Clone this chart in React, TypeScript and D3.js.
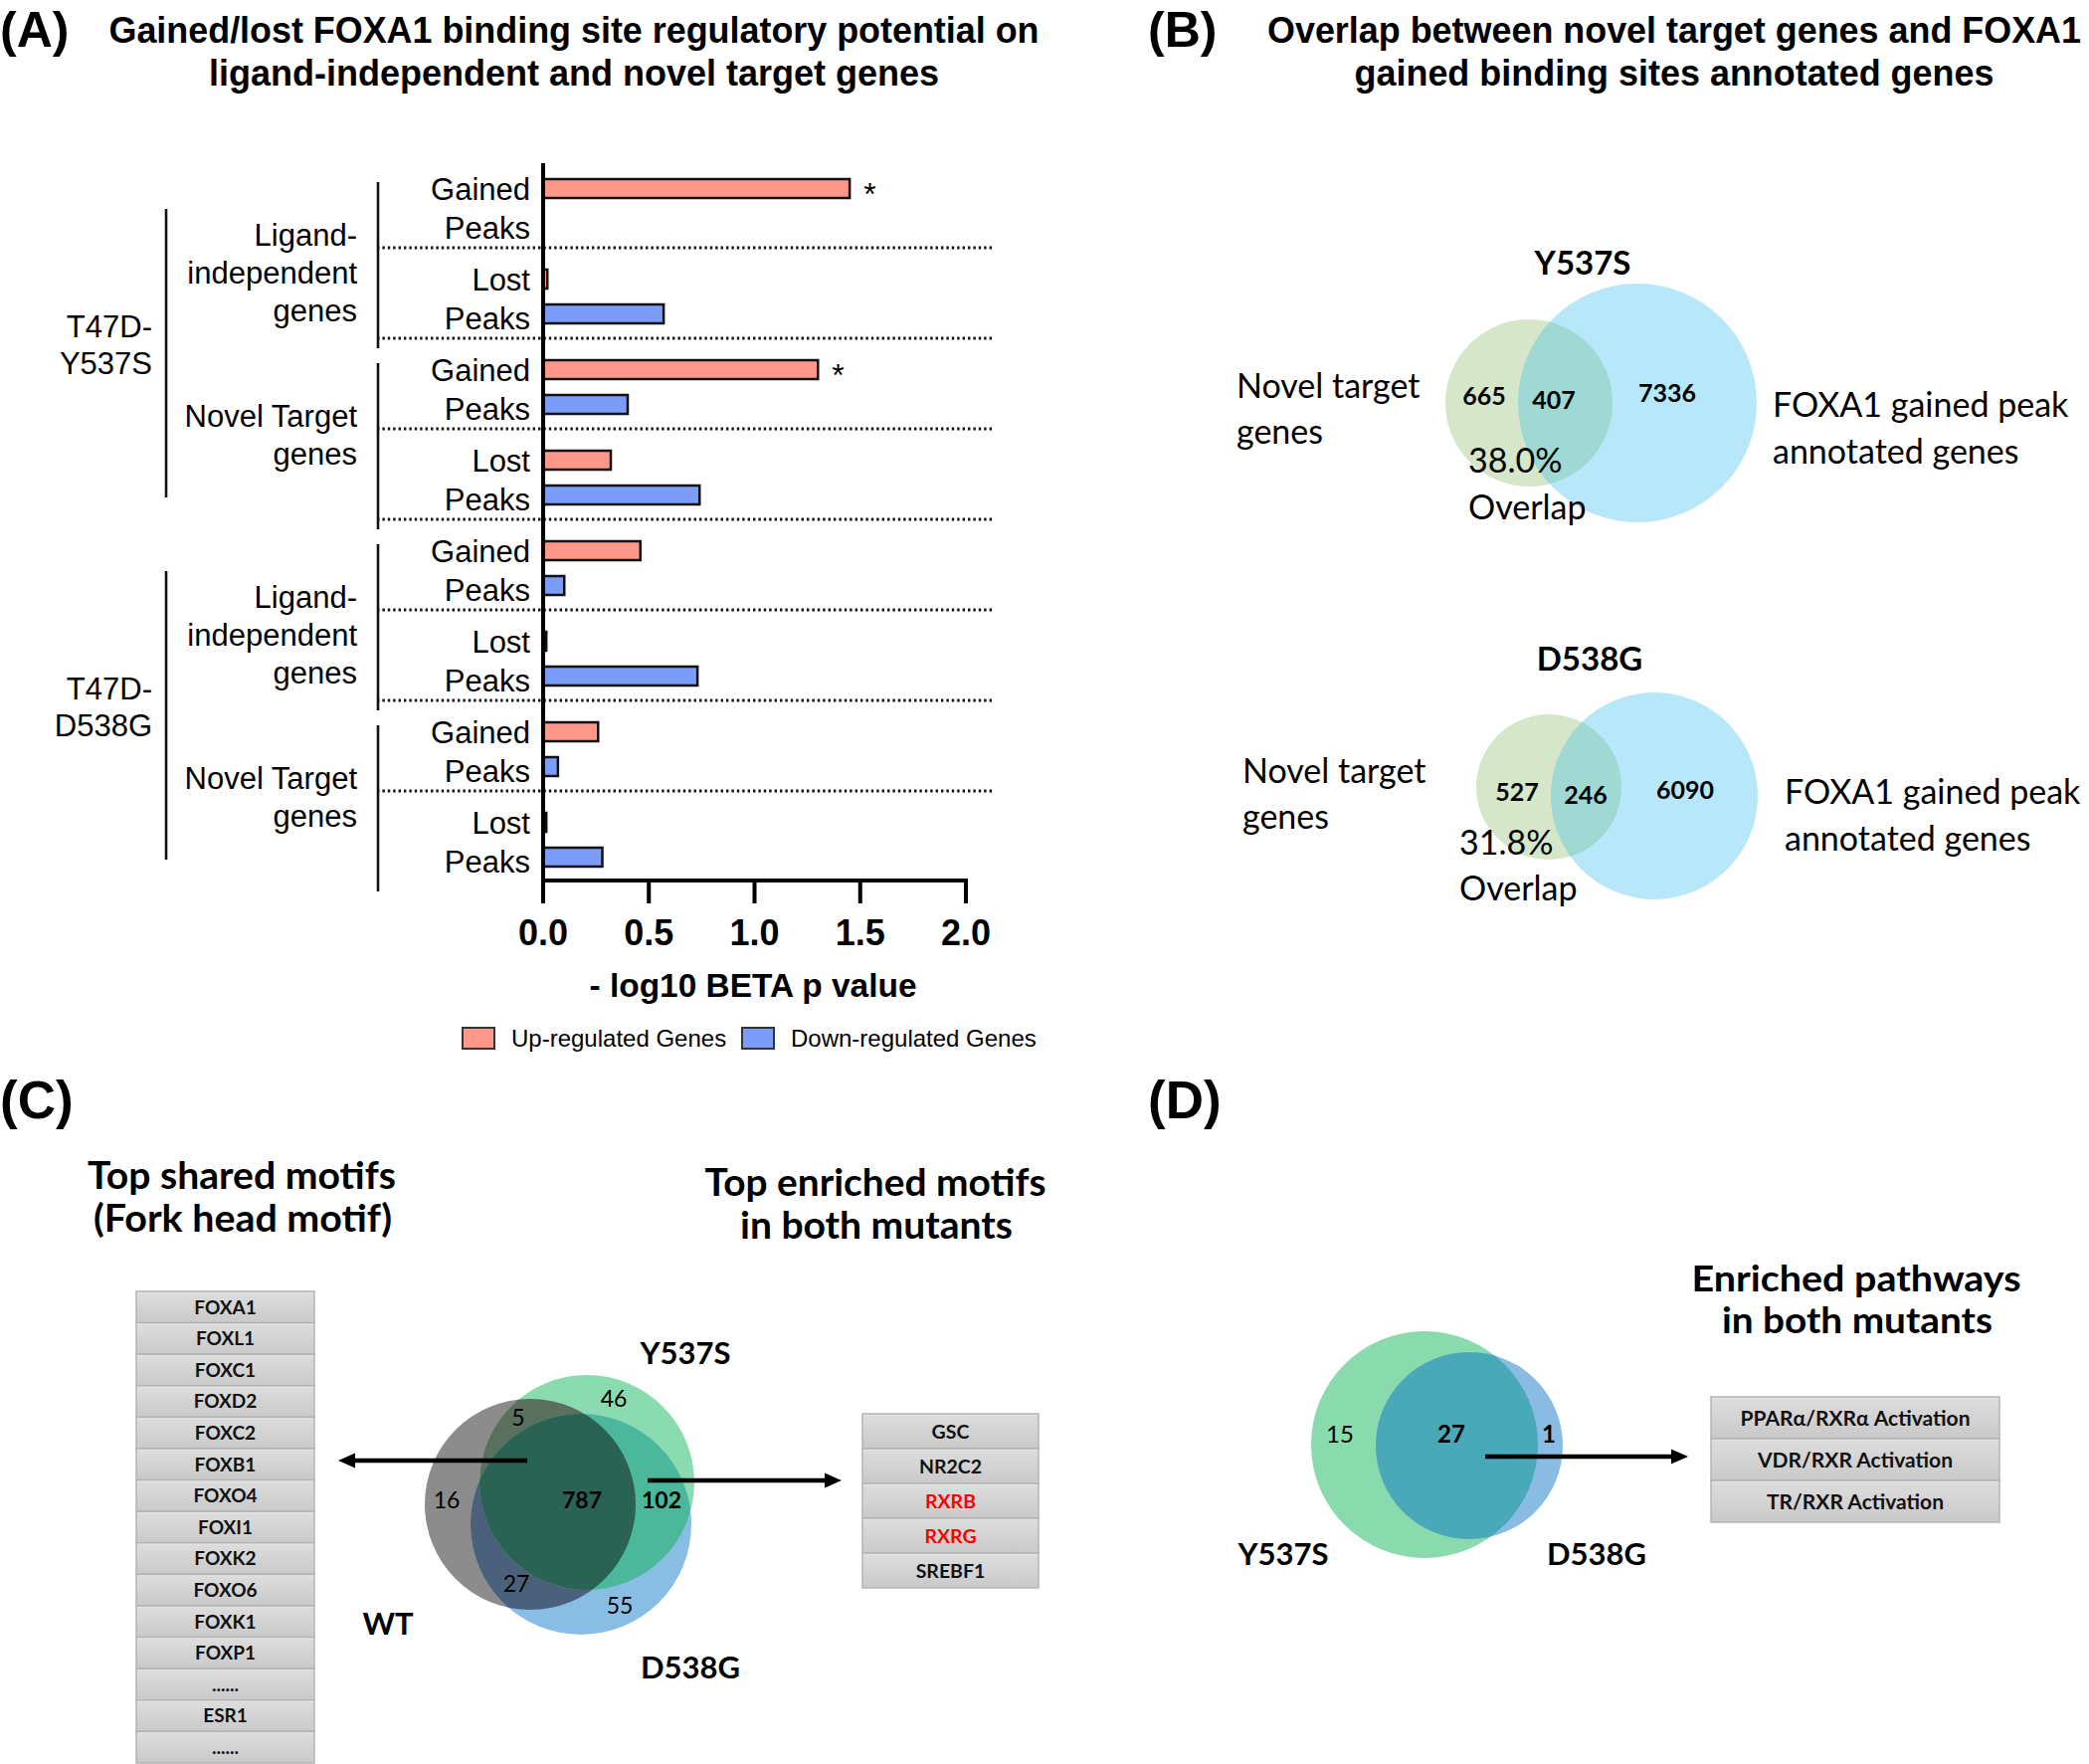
import React from 'react';
import * as d3 from 'd3';

// ---------------- Panel A data ----------------
const peakRows = ['Gained Peaks', 'Lost Peaks', 'Gained Peaks', 'Lost Peaks', 'Gained Peaks', 'Lost Peaks', 'Gained Peaks', 'Lost Peaks'];
const geneSetLabels = [['Ligand-', 'independent', 'genes'], ['Novel Target', 'genes'], ['Ligand-', 'independent', 'genes'], ['Novel Target', 'genes']];
const cellLineLabels = [['T47D-', 'Y537S'], ['T47D-', 'D538G']];
const upRegulated = [1.45, 0.02, 1.3, 0.32, 0.46, 0.015, 0.26, 0.015];
const downRegulated = [0, 0.57, 0.4, 0.74, 0.1, 0.73, 0.07, 0.28];
const significance = ['*', '', '*', '', '', '', '', ''];
const xTicks = [0, 0.5, 1.0, 1.5, 2.0];
const seriesNames = ['Up-regulated Genes', 'Down-regulated Genes'];
const seriesColors = ['#ff978b', '#7b9cf8'];

// ---------------- Panel B data ----------------
const bTitles = ['Y537S', 'D538G'];
const bNovelOnly = [665, 527];
const bShared = [407, 246];
const bFoxa1Only = [7336, 6090];
const bOverlapPct = ['38.0%', '31.8%'];

// ---------------- Panel C data ----------------
const cSetNames = ['WT', 'Y537S', 'D538G'];
// regions: WT only, Y537S only, D538G only, WT∩Y537S, WT∩D538G, Y537S∩D538G, all
const cRegionCounts = [16, 46, 55, 5, 27, 102, 787];
const sharedMotifs = ['FOXA1', 'FOXL1', 'FOXC1', 'FOXD2', 'FOXC2', 'FOXB1', 'FOXO4', 'FOXI1', 'FOXK2', 'FOXO6', 'FOXK1', 'FOXP1', '......', 'ESR1', '......'];
const enrichedMotifs = ['GSC', 'NR2C2', 'RXRB', 'RXRG', 'SREBF1'];
const highlightedMotifs = ['RXRB', 'RXRG'];

// ---------------- Panel D data ----------------
const dSetNames = ['Y537S', 'D538G'];
const dCounts = [15, 27, 1];
const pathways = ['PPARα/RXRα Activation', 'VDR/RXR Activation', 'TR/RXR Activation'];

const F_ARIAL = '"Liberation Sans", Arial, Helvetica, sans-serif';
const F_CAL = 'Lato, "Open Sans", "Noto Sans", sans-serif';

type TP = {
  x: number; y: number; size: number; children: React.ReactNode; weight?: number | string;
  anchor?: 'start' | 'middle' | 'end'; family?: string; fill?: string; len?: number;
};
function Txt({ x, y, size, children, weight = 400, anchor = 'start', family = F_CAL, fill = '#000', len }: TP) {
  return (
    <text
      x={x}
      y={y + size * 0.36}
      fontSize={size}
      fontWeight={weight}
      textAnchor={anchor}
      fontFamily={family}
      fill={fill}
      textLength={len}
      lengthAdjust={len ? 'spacingAndGlyphs' : undefined}
    >
      {children}
    </text>
  );
}

function Arrow({ x1, x2, y }: { x1: number; x2: number; y: number }) {
  const dir = x2 > x1 ? 1 : -1;
  const head = 17;
  return (
    <g>
      <line x1={x1} y1={y} x2={x2 - dir * head} y2={y} stroke="#000" strokeWidth={4.5} />
      <path d={`M${x2},${y} L${x2 - dir * head},${y - 7.5} L${x2 - dir * head},${y + 7.5} Z`} fill="#000" />
    </g>
  );
}

function PanelA() {
  const x = d3.scaleLinear().domain([0, 2]).range([546, 971]);
  const y = d3.scaleBand<number>().domain(d3.range(peakRows.length)).range([158, 886]);
  const yi = d3.scaleBand<string>().domain(['up', 'down']).range([14, 84]);
  const barH = 19;
  const center = (i: number, k: string) => (y(i) as number) + (yi(k) as number) + yi.bandwidth() / 2;
  const fmt = d3.format('.1f');
  const series = [upRegulated, downRegulated];
  const keys = ['up', 'down'];

  return (
    <g>
      <text x={0} y={47} fontSize={50} fontWeight={700} fontFamily={F_ARIAL}>(A)</text>
      <text x={577} y={43} fontSize={36} fontWeight={700} fontFamily={F_ARIAL} textAnchor="middle" textLength={935} lengthAdjust="spacingAndGlyphs">
        Gained/lost FOXA1 binding site regulatory potential on
      </text>
      <text x={577} y={86} fontSize={36} fontWeight={700} fontFamily={F_ARIAL} textAnchor="middle" textLength={734} lengthAdjust="spacingAndGlyphs">
        ligand-independent and novel target genes
      </text>

      {/* separators */}
      {d3.range(1, peakRows.length).map((i) => (
        <line key={'sep' + i} x1={379} x2={999} y1={y(i)} y2={y(i)} stroke="#111" strokeWidth={3} strokeDasharray="2.4 3" />
      ))}

      {/* bars */}
      {series.map((vals, s) =>
        vals.map((v, i) =>
          v > 0 ? (
            <rect
              key={`b${s}-${i}`}
              x={x(0)}
              y={center(i, keys[s]) - barH / 2}
              width={x(v) - x(0)}
              height={barH}
              fill={seriesColors[s]}
              stroke="#111"
              strokeWidth={2.5}
            />
          ) : null
        )
      )}
      {significance.map((s, i) =>
        s ? (
          <text key={'sig' + i} x={x(upRegulated[i]) + 14} y={center(i, 'up') + 16} fontSize={32} fontFamily={F_ARIAL}>
            {s}
          </text>
        ) : null
      )}

      {/* axes */}
      <line x1={546} x2={546} y1={164} y2={887} stroke="#000" strokeWidth={4} />
      <line x1={544} x2={x(2) + 2} y1={885} y2={885} stroke="#000" strokeWidth={4} />
      {xTicks.map((t) => (
        <g key={'t' + t}>
          <line x1={x(t)} x2={x(t)} y1={885} y2={908} stroke="#000" strokeWidth={4} />
          <Txt x={x(t)} y={937} size={36} weight={700} anchor="middle" family={F_ARIAL}>{fmt(t)}</Txt>
        </g>
      ))}
      <Txt x={757} y={990} size={33} weight={700} anchor="middle" family={F_ARIAL} len={329}>- log10 BETA p value</Txt>

      {/* row labels */}
      {peakRows.map((r, i) => {
        const [a, b] = r.split(' ');
        return (
          <g key={'rl' + i}>
            <Txt x={533} y={center(i, 'up')} size={31} anchor="end" family={F_ARIAL}>{a}</Txt>
            <Txt x={533} y={center(i, 'down') + 4} size={31} anchor="end" family={F_ARIAL}>{b}</Txt>
          </g>
        );
      })}

      {/* gene set brackets */}
      {geneSetLabels.map((lines, g) => {
        const top = (y(g * 2) as number) + 25;
        const bot = (y(g * 2 + 1) as number) + y.bandwidth() + 10;
        return (
          <g key={'gs' + g}>
            <line x1={380} x2={380} y1={top} y2={bot} stroke="#111" strokeWidth={2.6} />
            {lines.map((l, k) => (
              <Txt key={k} x={359} y={top + 53 + k * 38} size={31} anchor="end" family={F_ARIAL}>{l}</Txt>
            ))}
          </g>
        );
      })}

      {/* cell line brackets */}
      {cellLineLabels.map((lines, c) => {
        const top = (y(c * 4) as number) + 52;
        const bot = (y(c * 4 + 3) as number) + y.bandwidth() - 22;
        return (
          <g key={'cl' + c}>
            <line x1={167} x2={167} y1={top} y2={bot} stroke="#111" strokeWidth={2.6} />
            {lines.map((l, k) => (
              <Txt key={k} x={153} y={top + 118 + k * 37} size={31} anchor="end" family={F_ARIAL}>{l}</Txt>
            ))}
          </g>
        );
      })}

      {/* legend */}
      {seriesNames.map((n, s) => {
        const lx = [465, 746][s];
        return (
          <g key={'lg' + s}>
            <rect x={lx} y={1033} width={32} height={21} fill={seriesColors[s]} stroke="#333" strokeWidth={2} />
            <Txt x={lx + 49} y={1043} size={24} family={F_ARIAL}>{n}</Txt>
          </g>
        );
      })}
    </g>
  );
}

function TwoVenn({ id, a, b, colA, colB, colAB }: {
  id: string; a: [number, number, number]; b: [number, number, number]; colA: string; colB: string; colAB: string;
}) {
  return (
    <g>
      <defs>
        <clipPath id={id + 'A'}>
          <circle cx={a[0]} cy={a[1]} r={a[2]} />
        </clipPath>
      </defs>
      <circle cx={a[0]} cy={a[1]} r={a[2]} fill={colA} />
      <circle cx={b[0]} cy={b[1]} r={b[2]} fill={colB} />
      <g clipPath={`url(#${id}A)`}>
        <circle cx={b[0]} cy={b[1]} r={b[2]} fill={colAB} />
      </g>
    </g>
  );
}

function PanelB() {
  const layouts = [
    { title: [1591, 264], green: [1537, 405, 84], blue: [1646, 405, 120], nums: [[1492, 398], [1562, 402], [1676, 395]], pct: [1476, 463], ov: [1476, 510], novel: [1243, 388], foxa: [1782, 407] },
    { title: [1598, 662], green: [1557, 791, 73], blue: [1663, 800, 104], nums: [[1525, 796], [1594, 799], [1694, 794]], pct: [1467, 847], ov: [1467, 893], novel: [1249, 775], foxa: [1794, 796] },
  ];
  return (
    <g>
      <text x={1154} y={47} fontSize={50} fontWeight={700} fontFamily={F_ARIAL}>(B)</text>
      <text x={1683} y={43} fontSize={36} fontWeight={700} fontFamily={F_ARIAL} textAnchor="middle" textLength={818} lengthAdjust="spacingAndGlyphs">
        Overlap between novel target genes and FOXA1
      </text>
      <text x={1683} y={86} fontSize={36} fontWeight={700} fontFamily={F_ARIAL} textAnchor="middle" textLength={643} lengthAdjust="spacingAndGlyphs">
        gained binding sites annotated genes
      </text>
      {layouts.map((L, i) => (
        <g key={'vb' + i}>
          <TwoVenn id={'vb' + i} a={L.green as any} b={L.blue as any} colA="#d6e7c9" colB="#b7e7f8" colAB="#a0d8d3" />
          <Txt x={L.title[0]} y={L.title[1]} size={33} weight={700} anchor="middle">{bTitles[i]}</Txt>
          {[bNovelOnly[i], bShared[i], bFoxa1Only[i]].map((v, k) => (
            <Txt key={k} x={L.nums[k][0]} y={L.nums[k][1]} size={25} weight={700} anchor="middle">{v}</Txt>
          ))}
          <Txt x={L.pct[0]} y={L.pct[1]} size={34}>{bOverlapPct[i]}</Txt>
          <Txt x={L.ov[0]} y={L.ov[1]} size={34}>Overlap</Txt>
          <Txt x={L.novel[0]} y={L.novel[1]} size={34}>Novel target</Txt>
          <Txt x={L.novel[0]} y={L.novel[1] + 46} size={34}>genes</Txt>
          <Txt x={L.foxa[0]} y={L.foxa[1]} size={34}>FOXA1 gained peak</Txt>
          <Txt x={L.foxa[0]} y={L.foxa[1] + 47} size={34}>annotated genes</Txt>
        </g>
      ))}
    </g>
  );
}

function Table({ items, x, top, w, h, cx, size, colorOf }: {
  items: string[]; x: number; top: number; w: number; h: number; cx: number; size: number; colorOf?: (s: string) => string;
}) {
  const yb = d3.scaleBand<number>().domain(d3.range(items.length)).range([top, top + h * items.length]);
  return (
    <g>
      {items.map((s, i) => (
        <g key={i}>
          <rect x={x} y={yb(i)} width={w} height={yb.bandwidth()} fill="url(#cellGrad)" stroke="#b4b4b4" strokeWidth={1.5} />
          <line x1={x + 1} x2={x + w - 1} y1={(yb(i) as number) + 1.5} y2={(yb(i) as number) + 1.5} stroke="#e4e4e4" strokeWidth={1} />
          <Txt x={cx} y={(yb(i) as number) + yb.bandwidth() / 2} size={size} weight={700} anchor="middle" fill={colorOf ? colorOf(s) : '#111'}>
            {s}
          </Txt>
        </g>
      ))}
    </g>
  );
}

function PanelC() {
  const wt = [533, 1512, 106];
  const y5 = [590, 1490, 108];
  const d5 = [584, 1532, 111];
  const c = (p: number[], fill: string) => <circle cx={p[0]} cy={p[1]} r={p[2]} fill={fill} />;
  // region label positions in order of cRegionCounts
  const regionPos = [[449, 1508], [617, 1406], [623, 1614], [521, 1425], [519, 1592], [665, 1508], [585, 1508]];
  const regionBold = [false, false, false, false, false, true, true];
  return (
    <g>
      <text x={0} y={1124} fontSize={53} fontWeight={700} fontFamily={F_ARIAL}>(C)</text>
      <Txt x={243} y={1181} size={38} weight={700} anchor="middle" len={310}>Top shared motifs</Txt>
      <Txt x={244} y={1224} size={38} weight={700} anchor="middle" len={300}>(Fork head motif)</Txt>
      <Txt x={880} y={1188} size={38} weight={700} anchor="middle" len={343}>Top enriched motifs</Txt>
      <Txt x={881} y={1231} size={38} weight={700} anchor="middle" len={274}>in both mutants</Txt>

      <Table items={sharedMotifs} x={137} top={1298} w={179} h={31.6} cx={226.5} size={19} />
      <Table items={enrichedMotifs} x={867} top={1421} w={177} h={35} cx={955.5} size={19.5}
        colorOf={(s) => (highlightedMotifs.includes(s) ? '#ff0000' : '#111')} />

      <defs>
        <clipPath id="cWT"><circle cx={wt[0]} cy={wt[1]} r={wt[2]} /></clipPath>
        <clipPath id="cY"><circle cx={y5[0]} cy={y5[1]} r={y5[2]} /></clipPath>
      </defs>
      {c(wt, '#8c8c8c')}
      {c(y5, '#8adcb0')}
      {c(d5, '#89bde3')}
      <g clipPath="url(#cWT)">
        {c(y5, '#5b6f5f')}
        {c(d5, '#4b607a')}
      </g>
      <g clipPath="url(#cY)">
        {c(d5, '#4bb89c')}
        <g clipPath="url(#cWT)">{c(d5, '#2a6353')}</g>
      </g>
      {cRegionCounts.map((v, i) => (
        <Txt key={i} x={regionPos[i][0]} y={regionPos[i][1]} size={23} weight={regionBold[i] ? 700 : 400} anchor="middle">{v}</Txt>
      ))}
      <Txt x={390} y={1632} size={31} weight={700} anchor="middle">{cSetNames[0]}</Txt>
      <Txt x={689} y={1360} size={31} weight={700} anchor="middle">{cSetNames[1]}</Txt>
      <Txt x={694} y={1676} size={31} weight={700} anchor="middle">{cSetNames[2]}</Txt>
      <Arrow x1={530} x2={340} y={1468} />
      <Arrow x1={651} x2={846} y={1488} />
    </g>
  );
}

function PanelD() {
  const g = [1432, 1452, 114];
  const b = [1477, 1453, 94];
  return (
    <g>
      <text x={1154} y={1124} fontSize={53} fontWeight={700} fontFamily={F_ARIAL}>(D)</text>
      <Txt x={1866} y={1285} size={37} weight={700} anchor="middle" len={331}>Enriched pathways</Txt>
      <Txt x={1867} y={1327} size={37} weight={700} anchor="middle" len={272}>in both mutants</Txt>
      <TwoVenn id="vd" a={g as any} b={b as any} colA="#89dbae" colB="#8abbe3" colAB="#4aa9b8" />
      <Txt x={1347} y={1441} size={24} anchor="middle">{dCounts[0]}</Txt>
      <Txt x={1459} y={1441} size={24} weight={700} anchor="middle">{dCounts[1]}</Txt>
      <Txt x={1557} y={1441} size={24} weight={700} anchor="middle">{dCounts[2]}</Txt>
      <Txt x={1290} y={1562} size={31} weight={700} anchor="middle">{dSetNames[0]}</Txt>
      <Txt x={1605} y={1562} size={31} weight={700} anchor="middle">{dSetNames[1]}</Txt>
      <Arrow x1={1493} x2={1697} y={1464} />
      <Table items={pathways} x={1720} top={1404} w={290} h={42} cx={1865} size={21} />
    </g>
  );
}

export default function App() {
  return (
    <svg
      width={2100}
      height={1773}
      viewBox="0 0 2100 1773"
      style={{ position: 'absolute', left: 0, top: 0, background: '#fff' }}
      xmlns="http://www.w3.org/2000/svg"
    >
      <defs>
        <linearGradient id="cellGrad" x1="0" y1="0" x2="0" y2="1">
          <stop offset="0" stopColor="#dedede" />
          <stop offset="1" stopColor="#c9c9c9" />
        </linearGradient>
      </defs>
      <rect x={0} y={0} width={2100} height={1773} fill="#fff" />
      <PanelA />
      <PanelB />
      <PanelC />
      <PanelD />
    </svg>
  );
}
